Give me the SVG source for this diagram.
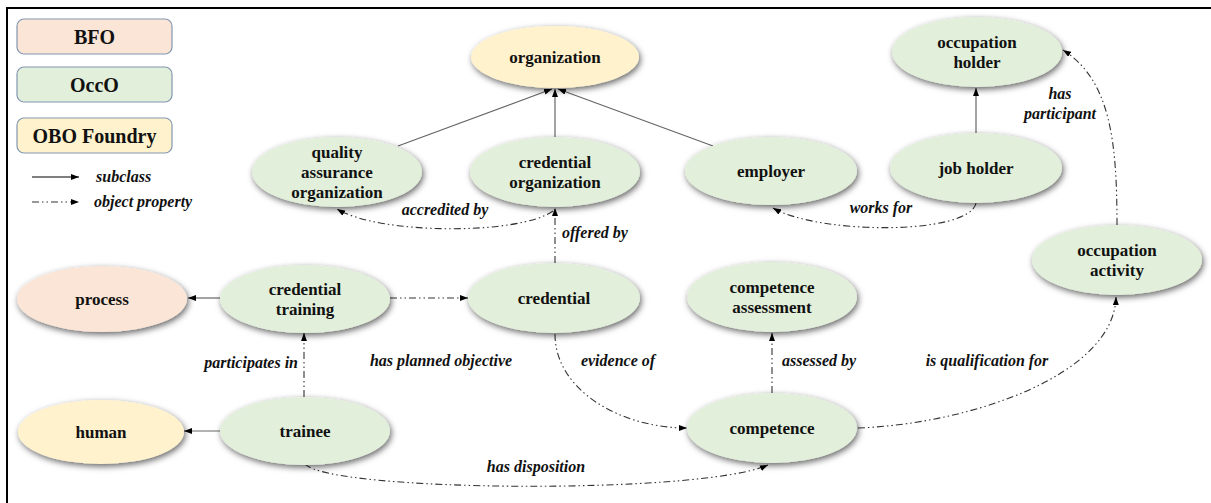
<svg xmlns="http://www.w3.org/2000/svg" width="1211" height="503" viewBox="0 0 1211 503" font-family="Liberation Serif, Times New Roman, DejaVu Serif, serif">
  <defs>
    <filter id="shadow" x="-20%" y="-30%" width="140%" height="170%">
      <feDropShadow dx="1.5" dy="2.5" stdDeviation="3" flood-color="#000" flood-opacity="0.6"/>
    </filter>
    <marker id="arrow" viewBox="0 0 8 6" refX="8" refY="3" markerWidth="8" markerHeight="6" markerUnits="userSpaceOnUse" orient="auto">
      <path d="M0,0 L8,3 L0,6 z" fill="#000"/>
    </marker>
    <style>
      text { font-family: 'Liberation Serif', 'Times New Roman', 'DejaVu Serif', serif; }
      .node-text { font-weight: bold; font-size: 17px; fill: #111; text-anchor: middle; }
      .label { font-weight: bold; font-style: italic; font-size: 16px; fill: #111; }
      .legend-text { font-weight: bold; font-size: 20px; fill: #111; text-anchor: middle; }
      .occo { fill: #e2efda; }
      .bfo { fill: #fbe5d6; }
      .obo { fill: #fff2cc; }
      .legend-box { stroke: #8497b0; stroke-width: 1.2; }
      .subclass { fill: none; stroke: #666; stroke-width: 1.2; marker-end: url(#arrow); }
      .objprop { fill: none; stroke: #333; stroke-width: 1.1; stroke-dasharray: 7 3 1.5 3 1.5 3; marker-end: url(#arrow); }
      ellipse { filter: url(#shadow); }
    </style>
  </defs>

  <rect width="1211" height="503" fill="#fff"/>
  <!-- frame (right and bottom edges run off the canvas) -->
  <rect x="7" y="8" width="1230" height="520" fill="none" stroke="#000" stroke-width="2"/>

  <!-- legend -->
  <g id="legend">
    <rect class="bfo legend-box" x="17" y="19" width="155" height="35" rx="7"/>
    <text class="legend-text" x="94.5" y="44">BFO</text>
    <rect class="occo legend-box" x="17" y="67" width="155" height="35" rx="7"/>
    <text class="legend-text" x="94.5" y="92">OccO</text>
    <rect class="obo legend-box" x="17" y="118" width="155" height="35" rx="7"/>
    <text class="legend-text" x="94.5" y="143">OBO Foundry</text>
    <line x1="32" y1="177" x2="79" y2="177" stroke="#000" stroke-width="1.2" marker-end="url(#arrow)"/>
    <text class="label" x="96" y="182">subclass</text>
    <line class="objprop" x1="32" y1="202" x2="79" y2="202" stroke="#000"/>
    <text class="label" x="94" y="207">object property</text>
  </g>

  <!-- connectors -->
  <g id="connectors">
    <!-- subclass links -->
    <line class="subclass" x1="398" y1="146" x2="552" y2="89"/>
    <line class="subclass" x1="555" y1="137" x2="555" y2="89"/>
    <line class="subclass" x1="713" y1="146" x2="558" y2="89"/>
    <line class="subclass" x1="976" y1="133" x2="976" y2="88"/>
    <line class="subclass" x1="220" y1="298" x2="188" y2="298"/>
    <line class="subclass" x1="220" y1="431" x2="184" y2="431"/>

    <!-- object properties -->
    <path class="objprop" d="M553,211 C520,235 380,235 337,209"/>
    <line class="objprop" x1="555" y1="263" x2="555" y2="208"/>
    <path class="objprop" d="M976,203 C970,235 820,235 773,208"/>
    <path class="objprop" d="M1117,225 C1117,140 1110,80 1063,50"/>
    <line class="objprop" x1="390" y1="298" x2="468" y2="298"/>
    <line class="objprop" x1="304" y1="397" x2="304" y2="333"/>
    <path class="objprop" d="M555,334 C555,390 620,428 687,428"/>
    <line class="objprop" x1="772" y1="393" x2="772" y2="333"/>
    <path class="objprop" d="M858,428 C970,424 1114,375 1116,297"/>
    <path class="objprop" d="M305,464 C330,492 700,495 768,465"/>

    <!-- property labels -->
    <text class="label" x="445" y="215" text-anchor="middle">accredited by</text>
    <text class="label" x="562" y="238">offered by</text>
    <text class="label" x="881" y="213" text-anchor="middle">works for</text>
    <text class="label" x="1060" y="99" text-anchor="middle">has</text>
    <text class="label" x="1060" y="119" text-anchor="middle">participant</text>
    <text class="label" x="441" y="366" text-anchor="middle">has planned objective</text>
    <text class="label" x="298" y="368" text-anchor="end">participates in</text>
    <text class="label" x="618" y="366" text-anchor="middle">evidence of</text>
    <text class="label" x="782" y="366">assessed by</text>
    <text class="label" x="987" y="366" text-anchor="middle">is qualification for</text>
    <text class="label" x="536" y="472" text-anchor="middle">has disposition</text>
  </g>

  <!-- nodes -->
  <g id="organization">
    <ellipse class="obo" cx="555" cy="57" rx="84" ry="31"/>
    <text class="node-text" x="555" y="63">organization</text>
  </g>
  <g id="quality-assurance-organization">
    <ellipse class="occo" cx="337" cy="172" rx="85" ry="35"/>
    <text class="node-text" x="337" y="158">quality</text>
    <text class="node-text" x="337" y="178">assurance</text>
    <text class="node-text" x="337" y="198">organization</text>
  </g>
  <g id="credential-organization">
    <ellipse class="occo" cx="555" cy="172" rx="85" ry="35"/>
    <text class="node-text" x="555" y="168">credential</text>
    <text class="node-text" x="555" y="188">organization</text>
  </g>
  <g id="employer">
    <ellipse class="occo" cx="771" cy="171" rx="86" ry="34"/>
    <text class="node-text" x="771" y="177">employer</text>
  </g>
  <g id="job-holder">
    <ellipse class="occo" cx="976" cy="168" rx="86" ry="35"/>
    <text class="node-text" x="976" y="174">job holder</text>
  </g>
  <g id="occupation-holder">
    <ellipse class="occo" cx="977" cy="52" rx="85" ry="35"/>
    <text class="node-text" x="977" y="48">occupation</text>
    <text class="node-text" x="977" y="68">holder</text>
  </g>
  <g id="occupation-activity">
    <ellipse class="occo" cx="1117" cy="260" rx="85" ry="35"/>
    <text class="node-text" x="1117" y="256">occupation</text>
    <text class="node-text" x="1117" y="276">activity</text>
  </g>
  <g id="process">
    <ellipse class="bfo" cx="102" cy="299" rx="85" ry="33"/>
    <text class="node-text" x="102" y="305">process</text>
  </g>
  <g id="credential-training">
    <ellipse class="occo" cx="305" cy="299" rx="85" ry="34"/>
    <text class="node-text" x="305" y="295">credential</text>
    <text class="node-text" x="305" y="315">training</text>
  </g>
  <g id="credential">
    <ellipse class="occo" cx="554" cy="298" rx="86" ry="35"/>
    <text class="node-text" x="554" y="304">credential</text>
  </g>
  <g id="competence-assessment">
    <ellipse class="occo" cx="772" cy="297" rx="85" ry="35"/>
    <text class="node-text" x="772" y="293">competence</text>
    <text class="node-text" x="772" y="313">assessment</text>
  </g>
  <g id="human">
    <ellipse class="obo" cx="101" cy="432" rx="83" ry="32"/>
    <text class="node-text" x="101" y="438">human</text>
  </g>
  <g id="trainee">
    <ellipse class="occo" cx="305" cy="431" rx="85" ry="34"/>
    <text class="node-text" x="305" y="437">trainee</text>
  </g>
  <g id="competence">
    <ellipse class="occo" cx="772" cy="428" rx="85" ry="35"/>
    <text class="node-text" x="772" y="434">competence</text>
  </g>
</svg>
